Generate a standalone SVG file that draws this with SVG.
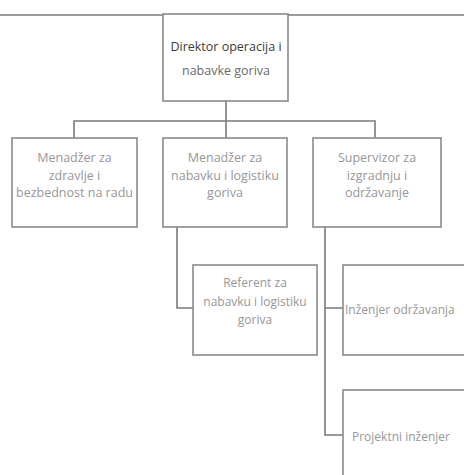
<svg xmlns="http://www.w3.org/2000/svg" width="464" height="475" viewBox="0 0 464 475">
<style>
.box{fill:#fff;stroke:#8a8a8a;stroke-width:1.6}
.c{fill:none;stroke:#7a7a7a;stroke-width:1.6}
text{font-family:"Open Sans","Noto Sans","Liberation Sans",sans-serif;font-size:12.5px;fill:#979797;text-anchor:middle}
.d{fill:#3c3c3c;font-size:12.5px}
.s{fill:#6a6a6a;font-size:12.5px}
.r{font-size:12px}
</style>
<rect width="464" height="475" fill="#fff"/>
<g id="connectors">
<line class="c" x1="0" y1="15" x2="464" y2="15" stroke="#999" stroke-width="2"/>
<path class="c" d="M226,101 V121 M74,138 V121 H375 V138 M226,121 V138"/>
<path class="c" d="M177,227 V308 H193"/>
<path class="c" d="M325,227 V435 H343 M325,308 H343"/>
</g>
<g id="n-direktor">
<rect class="box" x="163" y="14" width="125" height="87" stroke="#777"/>
<text class="d" x="226" y="51">Direktor operacija i</text>
<text class="s" x="226" y="75">nabavke goriva</text>
</g>
<g id="n-zdravlje">
<rect class="box" x="12" y="138" width="125" height="89"/>
<text x="74.5" y="162">Menadžer za</text>
<text x="74.5" y="180">zdravlje i</text>
<text x="74.5" y="197">bezbednost na radu</text>
</g>
<g id="n-nabavka">
<rect class="box" x="163" y="138" width="124" height="89"/>
<text x="225" y="162">Menadžer za</text>
<text x="225" y="180">nabavku i logistiku</text>
<text x="225" y="197">goriva</text>
</g>
<g id="n-supervizor">
<rect class="box" x="313" y="138" width="128" height="89"/>
<text x="377" y="162">Supervizor za</text>
<text x="377" y="180">izgradnju i</text>
<text x="377" y="197">održavanje</text>
</g>
<g id="n-referent">
<rect class="box" x="193" y="265" width="124" height="90"/>
<text class="r" x="255" y="287">Referent za</text>
<text class="r" x="255" y="306">nabavku i logistiku</text>
<text class="r" x="255" y="324">goriva</text>
</g>
<g id="n-inzenjer">
<rect class="box" x="343" y="265" width="130" height="90"/>
<text class="r" x="345" y="314" style="text-anchor:start">Inženjer održavanja</text>
</g>
<g id="n-projektni">
<rect class="box" x="343" y="390" width="130" height="100"/>
<text class="r" x="352" y="441" style="text-anchor:start">Projektni inženjer</text>
</g>
</svg>
